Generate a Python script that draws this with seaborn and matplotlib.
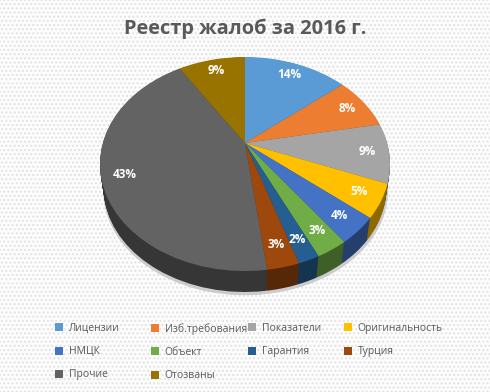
import numpy as np
import seaborn as sns
import matplotlib.pyplot as plt
from matplotlib.patches import Patch, Rectangle
from matplotlib.transforms import Affine2D, Transform

# Values.
CATEGORIES = ["Лицензии", "Изб.требования", "Показатели", "Оригинальность", "НМЦК",
              "Объект", "Гарантия", "Турция", "Прочие", "Отозваны"]
VALUES = [14, 8, 9, 5, 4, 3, 2, 3, 43, 9]
COLORS = ["#5B9BD5", "#ED7D31", "#A5A5A5", "#FFC000", "#4472C4",
          "#70AD47", "#255E91", "#9E480E", "#636363", "#997300"]

W, H = 490, 392
TEXT_GREY = "#595959"
DEPTH = 0.196
APEX = 0.196  # the wedges meet above the middle of the ellipse (perspective)
INSET = 0.025  # the lower rim is a bit narrower than the top face


class Tilt(Transform):
    # Projective map of the unit disc on itself, moves the centre up by p.
    input_dims = 2
    output_dims = 2

    def __init__(self, p):
        super().__init__()
        self.p = p

    def transform_non_affine(self, values):
        x, y = np.asarray(values).T
        d = 1 + self.p * y
        return np.column_stack([x * np.sqrt(1 - self.p ** 2) / d, (y + self.p) / d])


def draw_disc(ax, colors, drop=0.0, radius=1.0, shift=0.0):
    wedges = ax.pie(VALUES, colors=colors, startangle=90, counterclock=False,
                    wedgeprops={"clip_on": False, "linewidth": 0})[0]
    trans = Tilt(APEX) + Affine2D().scale(radius).translate(shift, -drop) + ax.transData
    for w in wedges:
        w.set_transform(trans)


sns.set_theme(style="white")
plt.rcParams["font.family"] = ["Open Sans", "DejaVu Sans"]

fig = plt.figure(figsize=(W / 100, H / 100), dpi=100)
fig.patch.set_facecolor("#fdfdfd")
fig.add_artist(Rectangle((0, 0), 1, 1, transform=fig.transFigure, facecolor="none",
                         edgecolor="#e2e2e2", hatch="....", linewidth=0, zorder=-1))

# Ellipse of the top face, in pixels: x 100..390, y 57..271
ax = fig.add_axes([100 / W, 1 - 271 / H, 290 / W, 214 / H], zorder=1)
palette = sns.color_palette(COLORS)
side_colors = [tuple(c * 0.55 for c in col) for col in palette]

# Shadow under the disc
draw_disc(ax, ["#cccccc"] * len(VALUES), drop=DEPTH + INSET + 0.03, radius=1 - INSET, shift=-0.003)
draw_disc(ax, ["#cccccc"] * len(VALUES), drop=DEPTH + INSET + 0.025, radius=1 - INSET, shift=0.012)

# Side wall: stacked discs, darker colours
for t in np.linspace(1, 0.02, 24):
    draw_disc(ax, side_colors, drop=t * (DEPTH + INSET), radius=1 - t * INSET)

draw_disc(ax, palette)
ax.set_aspect("auto")
ax.set_xlim(-1, 1)
ax.set_ylim(-1, 1)
ax.axis("off")

# Percent labels, at the middle of each wedge on the tilted disc
total = sum(VALUES)
tilt = Tilt(APEX)
start = 0
for v in VALUES:
    mid = np.deg2rad((start + v / 2) / total * 360)
    start += v
    px, py = tilt.transform_non_affine(np.array([[0.85 * np.sin(mid), 0.85 * np.cos(mid)]]))[0]
    ax.text(px, py, f"{v}%", ha="center", va="center", color="white",
            fontsize=8.5, fontweight="bold")

fig.text(245 / W, 1 - 29 / H, "Реестр жалоб за 2016 г.", ha="center", va="center",
         fontsize=14.4, fontweight="bold", color=TEXT_GREY)

# Legend: one legend per column, to keep the even column spacing
handles = [Patch(facecolor=c, edgecolor="none") for c in palette]
column_lefts = [55, 151, 248, 344]
for col, left in enumerate(column_lefts):
    idx = list(range(col, len(CATEGORIES), 4))
    fig.legend(
        [handles[i] for i in idx], [CATEGORIES[i] for i in idx],
        loc="upper left", bbox_to_anchor=(left / W, 1 - 323 / H),
        frameon=False, fontsize=7.5, labelcolor=TEXT_GREY,
        handlelength=0.8, handleheight=0.8, handletextpad=0.5,
        borderpad=0, borderaxespad=0, labelspacing=1.17,
    )

fig.savefig("out.png", dpi=100, facecolor=fig.get_facecolor())
